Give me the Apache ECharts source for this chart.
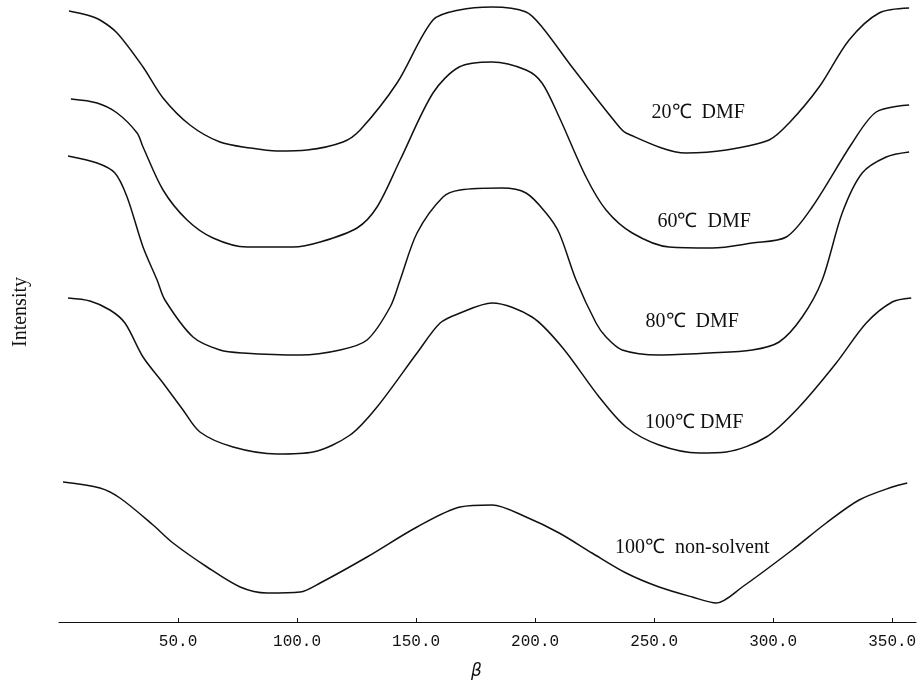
<!DOCTYPE html>
<html>
<head>
<meta charset="utf-8">
<script src="https://cdn.jsdelivr.net/npm/echarts@6/dist/echarts.min.js"></script>
<style>html,body{margin:0;padding:0;background:#fff}#c{width:919px;height:684px}</style>
</head>
<body>
<div id="c"></div>
<script>
// beta (x) and intensity (arbitrary, offset curves)
var names = ['20℃  DMF', '60℃  DMF', '80℃  DMF', '100℃ DMF', '100℃  non-solvent'];

var beta20 = [4.2, 11.8, 17.2, 24.4, 35.3, 43.7, 55.0, 67.6, 80.3, 91.6, 104.2, 119.3, 126.5, 142.0, 157.1, 168.1, 181.9, 196.2, 202.9, 215.5, 234.0, 238.2, 263.4, 280.3, 298.3, 306.7, 319.3, 331.9, 344.5, 357.1];
var int20  = [61.1, 60.7, 60.2, 58.9, 55.5, 52.4, 49.7, 48.0, 47.4, 47.1, 47.2, 48.0, 49.2, 53.9, 60.2, 61.2, 61.5, 61.0, 59.5, 55.5, 49.9, 48.9, 46.9, 47.2, 48.2, 49.9, 53.5, 58.2, 60.9, 61.4];

var beta60 = [5.0, 16.0, 24.4, 32.8, 35.3, 43.7, 53.8, 64.7, 79.0, 98.3, 109.7, 125.2, 133.6, 143.3, 157.1, 168.1, 181.9, 196.2, 202.9, 210.1, 221.4, 229.8, 240.8, 256.3, 274.4, 291.2, 305.5, 316.4, 333.2, 343.3, 357.1];
var int60  = [52.3, 51.9, 50.9, 48.9, 47.5, 43.2, 40.2, 38.4, 37.5, 37.5, 38.0, 39.4, 41.5, 46.2, 52.9, 55.5, 56.0, 55.2, 53.9, 50.5, 44.5, 41.2, 38.9, 37.5, 37.4, 37.9, 38.5, 41.5, 47.9, 51.0, 51.7];

var beta80 = [3.8, 16.0, 23.5, 28.6, 35.3, 41.2, 44.5, 56.3, 67.6, 77.3, 101.3, 118.1, 129.4, 139.1, 143.3, 150.4, 161.3, 168.5, 186.1, 196.2, 204.6, 210.1, 217.2, 225.6, 229.8, 236.6, 252.1, 273.1, 291.2, 302.5, 312.2, 320.6, 329.0, 337.4, 347.5, 357.1];
var int80  = [46.6, 45.9, 44.9, 42.5, 37.5, 34.2, 32.2, 28.5, 27.2, 26.9, 26.7, 27.2, 28.2, 31.5, 34.2, 38.9, 42.5, 43.2, 43.4, 42.9, 40.9, 38.9, 34.2, 29.9, 28.5, 27.2, 26.7, 26.9, 27.2, 28.0, 30.5, 34.2, 40.9, 44.9, 46.5, 47.0];

var beta100 = [3.8, 13.0, 21.4, 27.7, 35.3, 43.7, 52.1, 59.2, 73.1, 91.6, 106.7, 122.3, 133.6, 150.4, 160.1, 168.5, 181.9, 198.7, 211.3, 226.9, 238.2, 252.1, 268.9, 280.3, 297.1, 310.9, 326.5, 339.1, 350.0, 358.0];
var int100  = [32.4, 32.1, 31.2, 29.9, 26.5, 23.9, 21.2, 19.0, 17.5, 16.8, 17.0, 18.7, 21.5, 26.9, 29.9, 30.9, 31.9, 30.5, 27.5, 22.5, 19.5, 17.7, 16.9, 17.0, 18.5, 21.5, 25.9, 29.9, 32.0, 32.4];

var betaNS = [1.7, 17.2, 25.6, 39.5, 47.9, 62.2, 76.1, 87.4, 101.3, 109.7, 129.4, 150.4, 168.5, 181.9, 196.2, 210.1, 223.9, 238.2, 252.1, 266.0, 276.1, 287.0, 308.0, 322.3, 336.1, 350.0, 356.3];
var intNS  = [14.0, 13.4, 12.4, 9.7, 7.9, 5.5, 3.5, 2.9, 3.0, 3.9, 6.5, 9.5, 11.5, 11.7, 10.5, 8.9, 6.9, 4.9, 3.5, 2.5, 1.9, 3.5, 7.2, 9.9, 12.2, 13.5, 13.9];

// label anchors (data coordinates)
var labelBeta = [268.5, 271, 266, 266.8, 266];
var labelInt  = [50.9, 40.0, 30.0, 19.9, 7.4];

var xTicks = [50, 100, 150, 200, 250, 300, 350];

function pairs(xs, ys) { return xs.map(function (x, i) { return [x, ys[i]]; }); }

var curves = [pairs(beta20, int20), pairs(beta60, int60), pairs(beta80, int80), pairs(beta100, int100), pairs(betaNS, intNS)];

var chart = echarts.init(document.getElementById('c'), null, {renderer: 'canvas'});

var series = curves.map(function (d, i) {
  return {
    type: 'line',
    name: names[i],
    data: d,
    smooth: 0.3,
    showSymbol: false,
    symbol: 'none',
    lineStyle: {color: '#111', width: 1.5},
    silent: true,
    markPoint: {
      symbol: 'circle', symbolSize: 0,
      silent: true,
      data: [{coord: [labelBeta[i], labelInt[i]], value: names[i]}],
      label: {
        show: true, position: 'inside', formatter: names[i],
        color: '#111', fontFamily: 'Liberation Serif', fontSize: 20
      }
    }
  };
});

chart.setOption({
  backgroundColor: '#fff',
  animation: false,
  grid: {left: 59, right: 3, top: 2, bottom: 62, containLabel: false, outerBoundsMode: 'none'},
  xAxis: {
    type: 'value', min: 0, max: 360, interval: 50,
    name: 'β', nameLocation: 'middle', nameGap: 41,
    nameTextStyle: {fontFamily: 'DejaVu Sans', fontStyle: 'italic', fontSize: 17, color: '#111', padding: [0, 22, 0, 0]},
    axisLine: {show: true, lineStyle: {color: '#111', width: 1.2}},
    axisTick: {show: true, inside: true, length: 4, lineStyle: {color: '#111'}},
    splitLine: {show: false},
    axisLabel: {
      show: true, showMinLabel: false, showMaxLabel: false, margin: 12,
      color: '#111', fontFamily: 'Liberation Mono', fontSize: 16,
      formatter: function (v) { return xTicks.indexOf(v) >= 0 ? v.toFixed(1) : ''; }
    }
  },
  yAxis: {
    type: 'value', min: 0, max: 62,
    name: 'Intensity', nameLocation: 'middle', nameGap: 28, nameRotate: 90,
    nameTextStyle: {fontFamily: 'Liberation Serif', fontSize: 20, color: '#111'},
    axisLine: {show: false}, axisTick: {show: false}, axisLabel: {show: false}, splitLine: {show: false}
  },
  series: series
});
</script>
</body>
</html>
